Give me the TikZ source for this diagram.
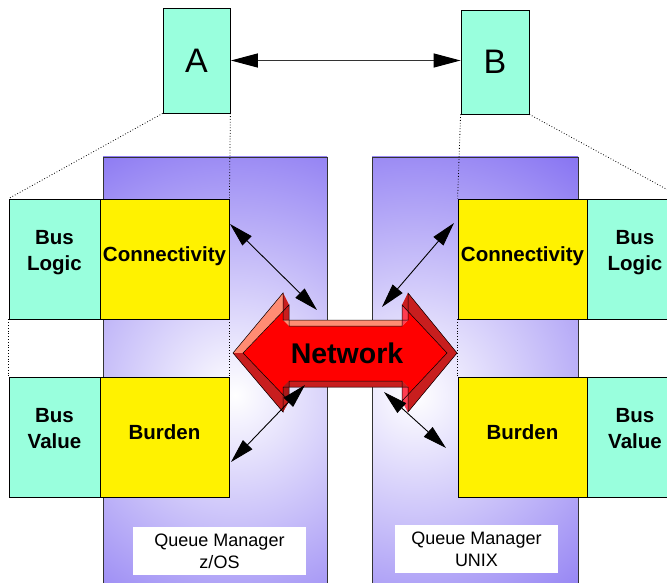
\documentclass[tikz,border=0pt]{standalone}
\usepackage{fontspec}
\setmainfont{Liberation Sans}
\usetikzlibrary{arrows.meta}
\definecolor{aqua}{RGB}{153,255,221}
\definecolor{qmpurple}{RGB}{118,96,240}
\definecolor{netsalmon}{RGB}{255,140,115}
\definecolor{netdark}{RGB}{200,30,30}
\definecolor{netpink}{RGB}{255,60,80}
\begin{document}
\begin{tikzpicture}[x=1pt,y=-1pt,
  box/.style={draw=black, line width=0.8pt, inner sep=0pt, align=center},
  aquabox/.style={box, fill=aqua},
  yelbox/.style={box, fill=yellow},
  lbl/.style={inner sep=0pt, align=center, font=\fontsize{20.5}{26}\selectfont\bfseries},
  qmlabel/.style={fill=white, inner sep=0pt, align=center, font=\fontsize{18}{22}\selectfont},
  dots/.style={dotted, line width=0.8pt},
  biarrow/.style={line width=0.9pt, {Triangle[length=24pt,width=13pt]}-{Triangle[length=24pt,width=13pt]}},
  panel/.style={draw=black!80, line width=0.8pt},
  face/.style={draw=black, line width=0.5pt}
]
\useasboundingbox (0,0) rectangle (667,583);

% Queue manager panels
\begin{scope}
  \clip (103,157) rectangle (327,600);
  \fill[qmpurple] (103,157) rectangle (327,600);
  \shade[inner color=white, outer color=qmpurple] (235,395) circle (330pt);
\end{scope}
\draw[panel] (103,600) -- (103,157) -- (327,157) -- (327,600);
\begin{scope}
  \clip (372,157) rectangle (578,600);
  \fill[qmpurple] (372,157) rectangle (578,600);
  \shade[inner color=white, outer color=qmpurple] (415,395) circle (330pt);
\end{scope}
\draw[panel] (372,600) -- (372,157) -- (578,157) -- (578,600);

% Top boxes
\node[aquabox, minimum width=67pt, minimum height=105pt, font=\fontsize{34}{34}\selectfont] (A) at (196.5,60.5) {A};
\node[aquabox, minimum width=68pt, minimum height=104pt, font=\fontsize{34}{34}\selectfont] (B) at (495,62) {B};

% Left stack
\node[aquabox, minimum width=91pt, minimum height=120pt] (LBL) at (54.5,259) {};
\node[yelbox, minimum width=129pt, minimum height=120pt] (LCon) at (164.5,259) {};
\node[aquabox, minimum width=91pt, minimum height=120pt] (LBV) at (54.5,437) {};
\node[yelbox, minimum width=129pt, minimum height=120pt] (LBur) at (164.5,437) {};

% Right stack
\node[yelbox, minimum width=129pt, minimum height=120pt] (RCon) at (522.5,259) {};
\node[aquabox, minimum width=96pt, minimum height=120pt, anchor=west] (RBL) at (587,259) {};
\node[yelbox, minimum width=129pt, minimum height=120pt] (RBur) at (522.5,437) {};
\node[aquabox, minimum width=96pt, minimum height=120pt, anchor=west] (RBV) at (587,437) {};

% Box texts
\node[lbl, yshift=6pt] (tLBL) at (LBL.center) {Bus\\Logic};
\node[lbl, yshift=2.5pt] (tLCon) at (LCon.center) {Connectivity};
\node[lbl, yshift=8pt] (tLBV) at (LBV.center) {Bus\\Value};
\node[lbl, yshift=5pt] (tLBur) at (LBur.center) {Burden};
\node[lbl, yshift=2.5pt] (tRCon) at (RCon.center) {Connectivity};
\node[lbl, yshift=6pt] (tRBL) at (635,259) {Bus\\Logic};
\node[lbl, yshift=5pt] (tRBur) at (RBur.center) {Burden};
\node[lbl, yshift=8pt] (tRBV) at (635,437) {Bus\\Value};

% Dotted projection lines
\draw[dots] (A.south west) -- (LBL.north west);
\draw[dots] (A.south east) -- (LCon.north east);
\draw[dots] (LBL.south west) -- (LBV.north west);
\draw[dots] (LCon.south east) -- (LBur.north east);
\draw[dots] (B.south west) -- (RCon.north west);
\draw[dots] (B.south east) -- (RBL.north east);
\draw[dots] (RCon.south west) -- (RBur.north west);
\draw[dots] (RBL.south east) -- (RBV.north east);

% A <-> B
\draw[line width=1.3pt, draw=black!80, {Triangle[length=27pt,width=14pt,color=black]}-{Triangle[length=27pt,width=14pt,color=black]}, shorten <=0.5pt] (A.east) -- (A.east -| B.west);

% Network 3D double arrow
\fill[red] (233,353) -- (283,293) -- (283,320) -- (408,320) -- (408,293) -- (457,353) -- (408,412) -- (408,387) -- (283,387) -- (283,412) -- cycle;
\fill[netsalmon] (233,353) -- (283,293) -- (289,305) -- (243,353) -- cycle;
\fill[netdark] (283,293) -- (283,320) -- (289,326) -- (289,305) -- cycle;
\fill[netsalmon] (283,320) -- (408,320) -- (402,326) -- (289,326) -- cycle;
\fill[netpink] (408,320) -- (408,293) -- (402,305) -- (402,326) -- cycle;
\fill[netdark] (408,293) -- (457,353) -- (447,353) -- (402,305) -- cycle;
\fill[netdark] (457,353) -- (408,412) -- (402,401) -- (447,353) -- cycle;
\fill[netpink] (408,412) -- (408,387) -- (402,381) -- (402,401) -- cycle;
\fill[netdark] (408,387) -- (283,387) -- (289,381) -- (402,381) -- cycle;
\fill[netdark!85!black] (283,387) -- (283,412) -- (289,401) -- (289,381) -- cycle;
\fill[netdark] (283,412) -- (233,353) -- (243,353) -- (289,401) -- cycle;
\draw[face] (243,353) -- (289,305) -- (289,326) -- (402,326) -- (402,305) -- (447,353) -- (402,401) -- (402,381) -- (289,381) -- (289,401) -- cycle;
\draw[face] (233,353) -- (283,293) -- (283,320) -- (408,320) -- (408,293) -- (457,353) -- (408,412) -- (408,387) -- (283,387) -- (283,412) -- cycle;
\node[font=\fontsize{28.5}{28}\selectfont\bfseries] (net) at (347,353) {Network};

% Small double arrows
\coordinate (lt1) at (230,224); \coordinate (lt2) at (317,310);
\coordinate (lb1) at (231,462); \coordinate (lb2) at (305,385);
\coordinate (rt1) at (454,223); \coordinate (rt2) at (382,307);
\coordinate (rb1) at (446,448); \coordinate (rb2) at (384,392);
\draw[biarrow] (lt1) -- (lt2);
\draw[biarrow] (lb1) -- (lb2);
\draw[biarrow] (rt1) -- (rt2);
\draw[biarrow] (rb1) -- (rb2);

% Queue manager labels
\node[qmlabel, minimum width=173pt, minimum height=48pt] (qmL) at (219.5,551) {Queue Manager\\z/OS};
\node[qmlabel, minimum width=163pt, minimum height=48pt] (qmR) at (476.5,549) {Queue Manager\\UNIX};
\end{tikzpicture}
\end{document}
